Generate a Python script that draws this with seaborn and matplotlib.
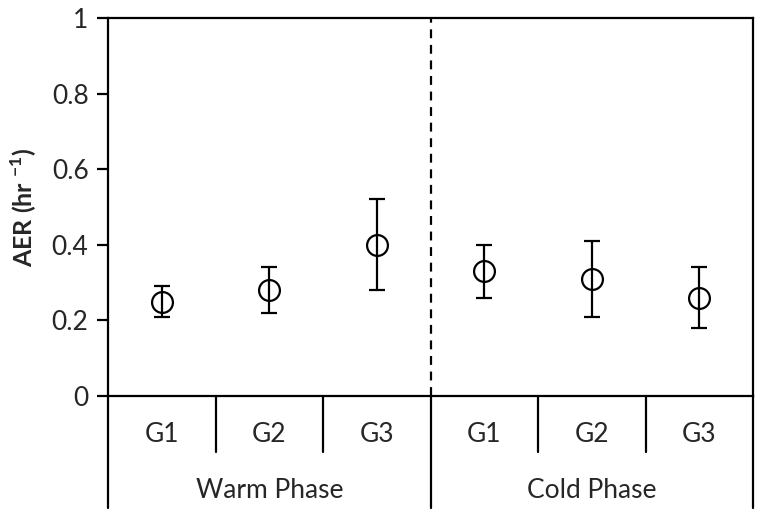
import numpy as np
import pandas as pd
import matplotlib
matplotlib.use("Agg")
import matplotlib.pyplot as plt
import matplotlib.transforms as mtransforms
import seaborn as sns

# ======== data ========
phases = ["Warm Phase", "Warm Phase", "Warm Phase", "Cold Phase", "Cold Phase", "Cold Phase"]
groups = ["G1", "G2", "G3", "G1", "G2", "G3"]
aer = [0.25, 0.28, 0.40, 0.33, 0.31, 0.26]
aer_low = [0.21, 0.22, 0.28, 0.26, 0.21, 0.18]
aer_high = [0.29, 0.34, 0.52, 0.40, 0.41, 0.34]
phase_names = ["Warm Phase", "Cold Phase"]
y_ticks = [0, 0.2, 0.4, 0.6, 0.8, 1]
y_tick_labels = ["0", "0.2", "0.4", "0.6", "0.8", "1"]

df = pd.DataFrame({"phase": phases, "group": groups, "aer": aer,
                   "low": aer_low, "high": aer_high})
df["slot"] = [f"{p} {g}" for p, g in zip(df.phase, df.group)]

sns.set_style("white")
plt.rcParams["font.family"] = ["Lato", "DejaVu Sans"]
plt.rcParams["mathtext.fontset"] = "custom"
plt.rcParams["mathtext.rm"] = "Lato"
plt.rcParams["mathtext.bf"] = "Lato:bold"

fig = plt.figure(figsize=(7.62, 5.17), dpi=100)
ax = fig.add_axes([108 / 762, 121 / 517, 645 / 762, 378 / 517])

fs = 19
lw = 1.6
x = np.arange(len(df))
ax.errorbar(x, df.aer, yerr=[df.aer - df.low, df.high - df.aer], fmt="none",
            ecolor="black", elinewidth=lw, capsize=6, capthick=lw, zorder=2)
sns.pointplot(data=df, x="slot", y="aer", order=list(df.slot), linestyle="none",
              marker="o", markersize=15, markerfacecolor="none",
              markeredgecolor="black", markeredgewidth=lw, color="black",
              errorbar=None, ax=ax, zorder=3)

ax.set_xlim(-0.5, len(df) - 0.5)
ax.set_ylim(0, 1)
ax.set_yticks(y_ticks)
ax.set_yticklabels(y_tick_labels, fontsize=fs)
ax.tick_params(axis="y", direction="out", length=8, width=lw, color="black", pad=6, left=True)
ax.set_xticks([])
ax.set_xlabel("")
ax.set_ylabel(r"AER (hr $^{\mathbf{-1}}$)", fontsize=18, fontweight="bold", labelpad=9)
for s in ax.spines.values():
    s.set_color("black")
    s.set_linewidth(lw)

# dashed divider between phases
ax.axvline(2.5, color="black", linestyle=(0, (4, 3)), linewidth=lw)

# ======== multi-level category axis ========
trans = mtransforms.blended_transform_factory(ax.transData, ax.transAxes)
low1 = -56 / 378
low2 = -112 / 378
for b in [0.5, 1.5, 3.5, 4.5]:
    ax.plot([b, b], [0, low1], color="black", lw=lw, transform=trans, clip_on=False)
for b in [-0.5, 2.5, 5.5]:
    ax.plot([b, b], [0, low2], color="black", lw=lw, transform=trans, clip_on=False)
for i, g in enumerate(df.group):
    ax.text(i, -39 / 378, g, transform=trans, ha="center", va="center", fontsize=fs)
for k, p in enumerate(phase_names):
    ax.text(1 + 3 * k, -94 / 378, p, transform=trans, ha="center", va="center", fontsize=fs)

fig.savefig("out.png", dpi=100)
